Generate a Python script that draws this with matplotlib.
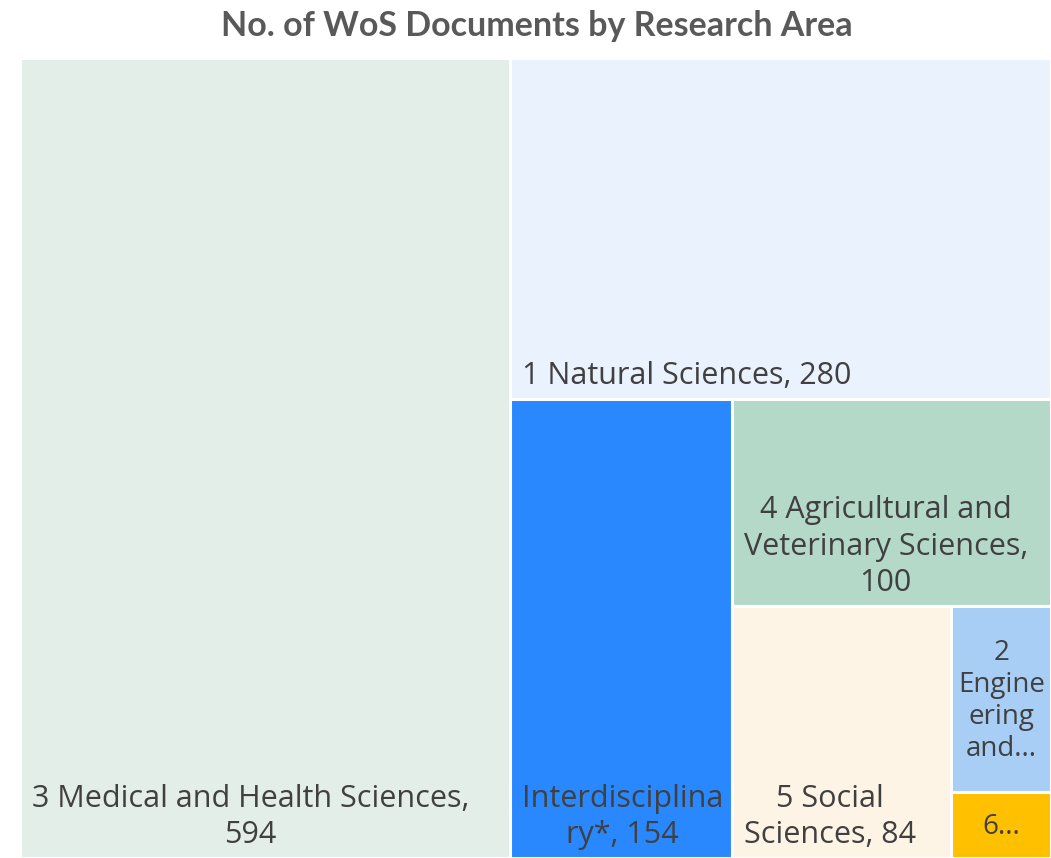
import matplotlib
matplotlib.use('Agg')
import matplotlib.pyplot as plt
from matplotlib.patches import Rectangle

# data
labels = ['3 Medical and Health Sciences, 594', '1 Natural Sciences, 280',
          'Interdisciplina ry*, 154', '4 Agricultural and Veterinary Sciences, 100',
          '5 Social Sciences, 84', '2 Engineering and Technology, 28', '6 Humanities, 10']
shown = ['3 Medical and Health Sciences,\n594', '1 Natural Sciences, 280',
         'Interdisciplina\nry*, 154', '4 Agricultural and\nVeterinary Sciences,\n100',
         '5 Social\nSciences, 84', '2\nEngine\nering\nand...', '6...']
values = [594, 280, 154, 100, 84, 28, 10]
colors = ['#E3EEE9', '#EAF2FE', '#2A88FF', '#B4D9C9', '#FDF4E6', '#A8CEF5', '#FFC000']

W, H = 1031.0, 800.0  # plot area in pixels

# slice along the longer side, one item at a time
rects = []
x, y, w, h = 0.0, 0.0, W, H
rest = float(sum(values))
for v in values:
    frac = v / rest
    if w >= h:
        rw = w * frac
        rects.append((x, y, rw, h))
        x += rw
        w -= rw
    else:
        rh = h * frac
        rects.append((x, y, w, rh))
        y += rh
        h -= rh
    rest -= v

fig = plt.figure(figsize=(10.51, 8.58), dpi=100)
ax = fig.add_axes([20 / 1051, 0, 1031 / 1051, 800 / 858])
ax.set_xlim(0, W)
ax.set_ylim(H, 0)
ax.axis('off')

for i, (rx, ry, rw, rh) in enumerate(rects):
    ax.add_patch(Rectangle((rx, ry), rw, rh, facecolor=colors[i],
                           edgecolor='white', linewidth=2.2))
    if shown[i].endswith('...'):
        ax.text(rx + rw / 2, ry + rh / 2 + 2, shown[i], ha='center', va='center',
                multialignment='center', fontsize=20, color='#404040',
                family='Open Sans', linespacing=1.2)
    else:
        ax.text(rx + 12, ry + rh - 8, shown[i], ha='left', va='bottom',
                multialignment='center', fontsize=22, color='#404040',
                family='Open Sans', linespacing=1.28)

fig.text(537 / 1051, 1 - 26 / 858, 'No. of WoS Documents by Research Area',
         ha='center', va='center', fontsize=24.5, fontweight='bold',
         color='#595959', family='Lato')

fig.savefig('out.png', dpi=100)
